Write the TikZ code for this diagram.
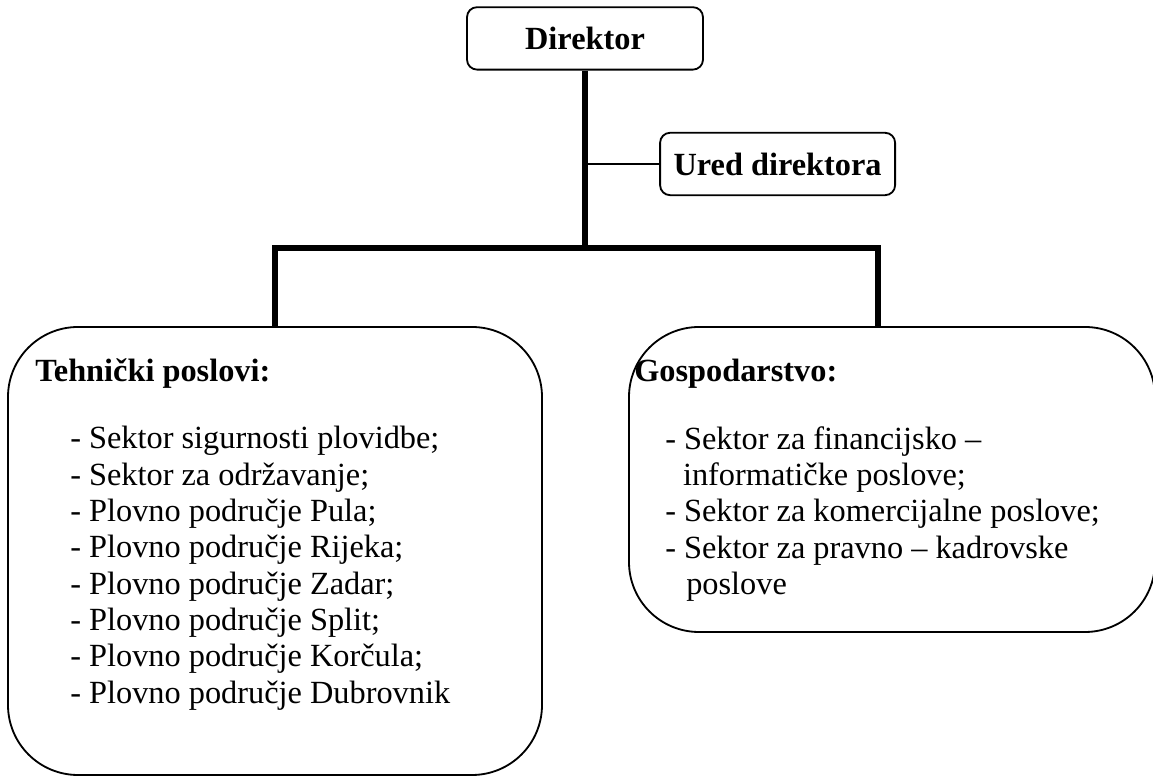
\documentclass[tikz,border=0pt]{standalone}
\usepackage{fontspec}
\setmainfont{Liberation Serif}
\usetikzlibrary{positioning}

\newcommand{\orgsize}{\fontsize{23pt}{25.85pt}\selectfont}

\tikzset{
  unit/.style={draw, line width=1.3pt, rounded corners=0.25cm, font=\orgsize\bfseries,
    minimum width=5.9cm, minimum height=1.56cm, inner sep=0pt},
  sector/.style={draw, line width=1.3pt, rounded corners=1.75cm, inner sep=0pt},
  trunk/.style={line width=4.3pt, line join=miter},
  branch/.style={line width=1.3pt},
  heading/.style={anchor=base west, inner sep=0pt, font=\orgsize\bfseries},
  list/.style={anchor=north west, inner sep=0pt, align=left, font=\orgsize}
}

\begin{document}
\begin{tikzpicture}
    \useasboundingbox (0,0) rectangle (28.825,19.4);

    % top of the chart
    \node[unit] (dir) at (14.625,18.44) {Direktor};
    \node[unit, minimum width=5.875cm] (ured) at (19.44,15.3) {Ured direktora};

    % the two sectors
    \node[sector, minimum width=13.35cm, minimum height=11.2cm] (tech) at (6.875,5.625) {};
    \node[sector, minimum width=13.15cm, minimum height=7.625cm] (gosp) at (22.3,7.4125) {};

    % connectors
    \coordinate (bar) at (14.625,13.2);
    \coordinate (gospdrop) at (21.95,11.225);
    \draw[trunk] (dir.south) -- (bar);
    \draw[trunk] (tech.north) |- (gospdrop |- bar) -- (gospdrop);
    \draw[branch] (ured.west) -- (ured.west -| dir.south);

    % texts in the sectors
    \node[heading] (techhead) at (0.875,9.85) {Tehnički poslovi:};
    \node[list] (techlist) at (1.75,8.75) {- Sektor sigurnosti plovidbe;\\
      - Sektor za održavanje;\\
      - Plovno područje Pula;\\
      - Plovno područje Rijeka;\\
      - Plovno područje Zadar;\\
      - Plovno područje Split;\\
      - Plovno područje Korčula;\\
      - Plovno područje Dubrovnik};

    \node[heading] (gosphead) at (15.85,9.85) {Gospodarstvo:};
    \node[list] (gosplist) at (16.625,8.75) {- Sektor za financijsko –\\
      \hspace*{0.55em}informatičke poslove;\\
      - Sektor za komercijalne poslove;\\
      - Sektor za pravno – kadrovske\\
      \hspace*{0.65em}poslove};
\end{tikzpicture}
\end{document}
